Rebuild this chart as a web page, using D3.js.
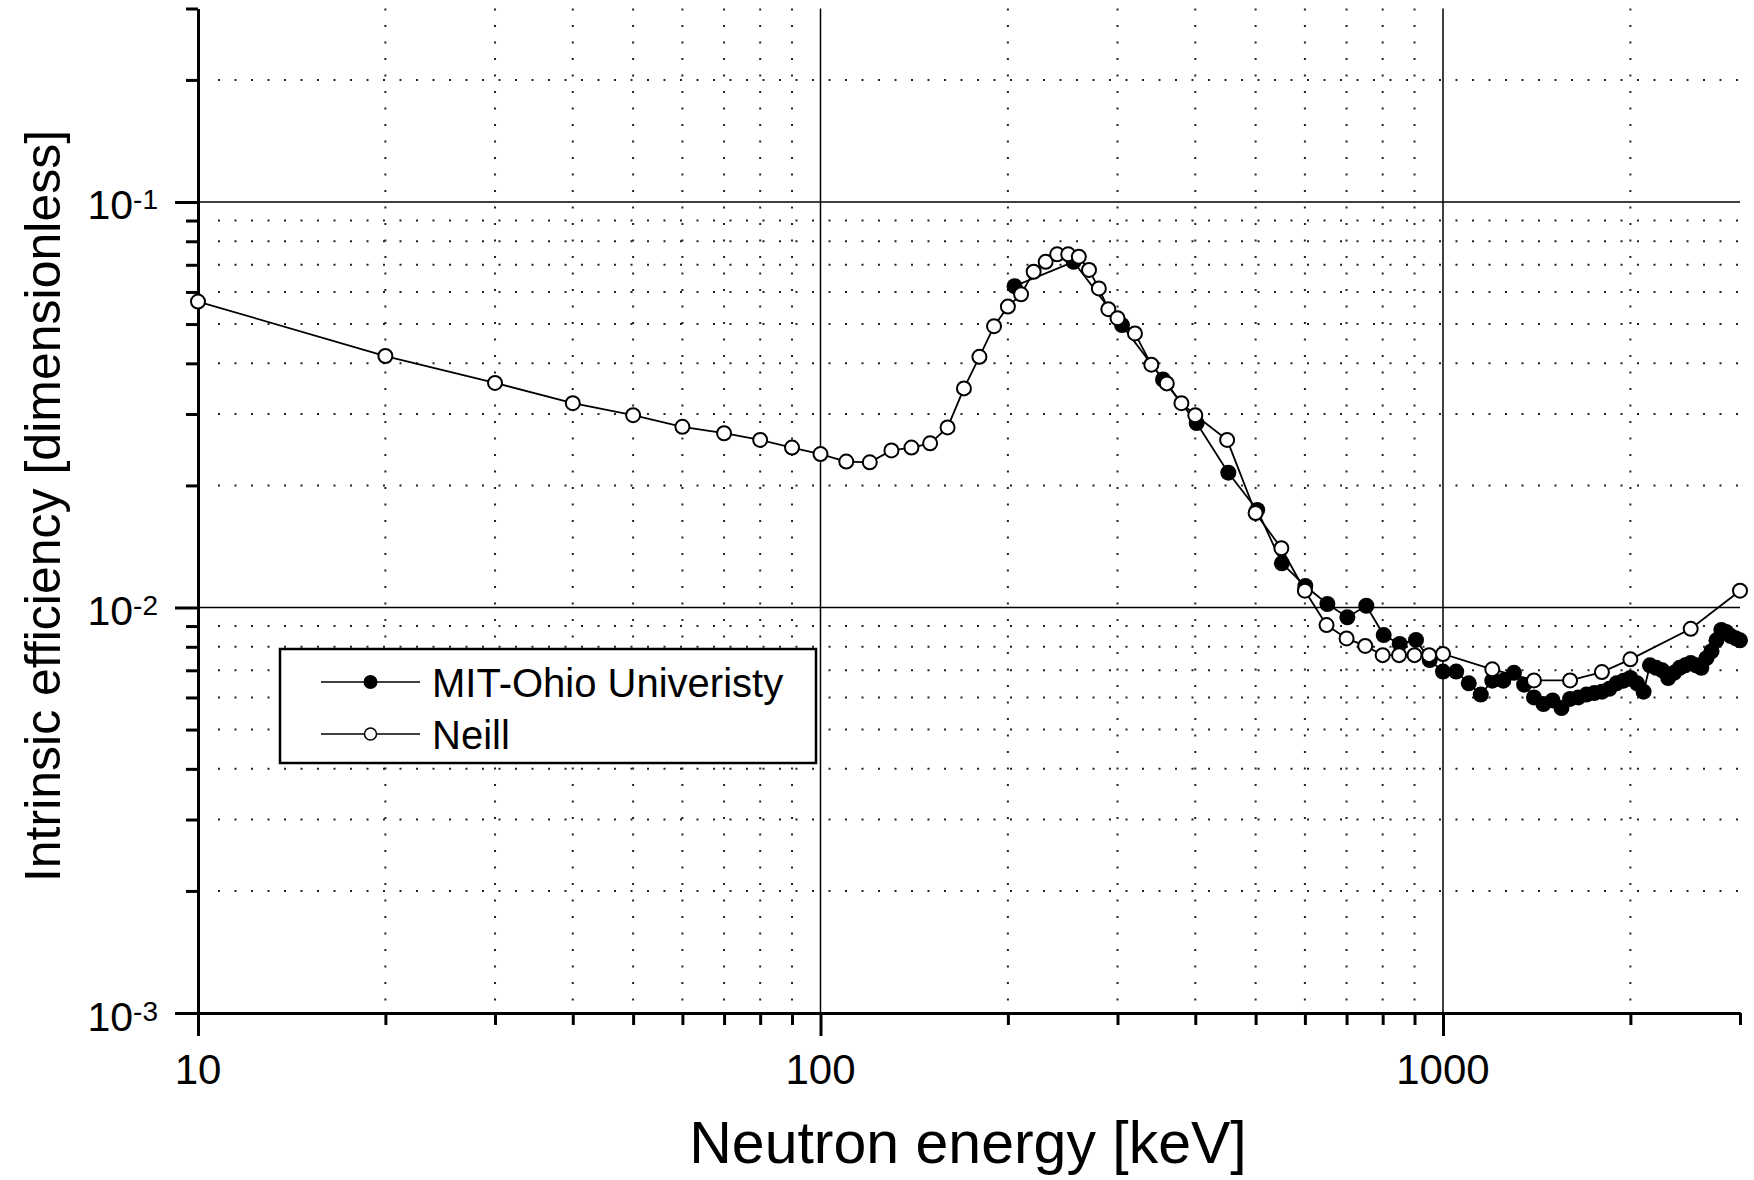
<!DOCTYPE html>
<html>
<head>
<meta charset="utf-8">
<script src="https://cdn.jsdelivr.net/npm/d3@7"></script>
<style>
  body { margin: 0; background: #fff; }
  svg text { font-family: "Liberation Sans", Arial, Helvetica, sans-serif; fill: #000; }
</style>
</head>
<body>
<svg id="chart" width="1754" height="1180"></svg>
<script>
// Neill (open circles)
const neillEnergy = [10, 20, 30, 40, 50, 60, 70, 80, 90, 100, 110, 120, 130, 140, 150, 160, 170, 180, 190,
  200, 210, 220, 230, 240, 250, 260, 270, 280, 290, 300, 320, 340, 360, 380, 400, 450, 500, 550, 600,
  650, 700, 750, 800, 850, 900, 950, 1000, 1200, 1400, 1600, 1800, 2000, 2500, 3000];
const neillEff = [0.0568, 0.0417, 0.0358, 0.0319, 0.0298, 0.0279, 0.0269, 0.0259, 0.0248, 0.0239, 0.0229,
  0.0228, 0.0244, 0.0248, 0.0254, 0.0278, 0.0347, 0.0415, 0.0494, 0.0552, 0.0592, 0.0673, 0.0712, 0.0743,
  0.0743, 0.0733, 0.068, 0.0612, 0.0544, 0.0517, 0.0474, 0.0397, 0.0357, 0.0319, 0.0298, 0.0259, 0.0171,
  0.014, 0.011, 0.00905, 0.00839, 0.00804, 0.00763, 0.00763, 0.00763, 0.00763, 0.00768, 0.00704, 0.00661,
  0.00661, 0.00693, 0.00745, 0.00886, 0.011];

// MIT-Ohio University (filled circles)
const mitEnergy = [205, 255, 305, 355, 402, 452, 503, 551, 601, 652, 702, 753, 803, 852, 905, 952, 1000,
  1050, 1100, 1150, 1200, 1250, 1300, 1350, 1400, 1450, 1500, 1550, 1600, 1650, 1700, 1750, 1800, 1850,
  1900, 1950, 2000, 2050, 2100, 2150, 2200, 2250, 2300, 2350, 2400, 2450, 2500, 2550, 2600, 2650, 2700,
  2750, 2800, 2850, 2900, 2950, 3000];
const mitEff = [0.062, 0.0712, 0.0497, 0.0365, 0.0285, 0.0215, 0.0174, 0.01285, 0.0113, 0.0102, 0.00946,
  0.0101, 0.00855, 0.00813, 0.00832, 0.00742, 0.00695, 0.00695, 0.0065, 0.0061, 0.0066, 0.0066, 0.0069,
  0.00645, 0.006, 0.00578, 0.0059, 0.00565, 0.00595, 0.006, 0.0061, 0.00615, 0.0062, 0.0063, 0.0065,
  0.0066, 0.0067, 0.0065, 0.0062, 0.0072, 0.0071, 0.007, 0.0067, 0.0069, 0.0071, 0.0072, 0.0073, 0.0072,
  0.0071, 0.0075, 0.0078, 0.0083, 0.0088, 0.0087, 0.0085, 0.0084, 0.0083];

const xMajorTicks = [10, 100, 1000];
const xMinorTicks = [20, 30, 40, 50, 60, 70, 80, 90, 200, 300, 400, 500, 600, 700, 800, 900, 2000, 3000];
const xDotted = [20, 30, 40, 50, 60, 70, 80, 90, 200, 300, 400, 500, 600, 700, 800, 900, 2000];
const yMajorTicks = [1e-3, 1e-2, 1e-1];
const yExponents = ["-3", "-2", "-1"];
const yMinorTicks = [2e-3, 3e-3, 4e-3, 5e-3, 6e-3, 7e-3, 8e-3, 9e-3,
  2e-2, 3e-2, 4e-2, 5e-2, 6e-2, 7e-2, 8e-2, 9e-2, 0.2, 0.3];
const yDotted = yMinorTicks.slice(0, 17);
const solidX = [100, 1000];
const solidY = [1e-2, 1e-1];

const svg = d3.select("#chart");

const x = d3.scaleLog().domain([10, 3000]).range([198, 1740]);
const y = d3.scaleLog().domain([1e-3, 0.3]).range([1013, 8.5]);
const x0 = x.range()[0], x1 = x.range()[1];
const y0 = y.range()[0], y1 = y.range()[1];

// dotted minor grid
const grid = svg.append("g");
grid.selectAll("line.vdot").data(xDotted).enter().append("line")
  .attr("x1", d => x(d)).attr("x2", d => x(d))
  .attr("y1", y1).attr("y2", y0 - 4)
  .attr("stroke", "#222").attr("stroke-width", 2).attr("stroke-dasharray", "2 14.5");
grid.selectAll("line.hdot").data(yDotted).enter().append("line")
  .attr("x1", x0 + 20).attr("x2", x1)
  .attr("y1", d => y(d)).attr("y2", d => y(d))
  .attr("stroke", "#222").attr("stroke-width", 2).attr("stroke-dasharray", "2 14.5");

// solid decade grid
grid.selectAll("line.vsol").data(solidX).enter().append("line")
  .attr("x1", d => x(d)).attr("x2", d => x(d))
  .attr("y1", y1).attr("y2", y0)
  .attr("stroke", "#000").attr("stroke-width", 1.5);
grid.selectAll("line.hsol").data(solidY).enter().append("line")
  .attr("x1", x0).attr("x2", x1)
  .attr("y1", d => y(d)).attr("y2", d => y(d))
  .attr("stroke", "#000").attr("stroke-width", 1.5);

// axes
function styleAxis(g) {
  g.select(".domain").attr("stroke-width", 3);
  g.selectAll(".tick line").attr("stroke-width", 3);
}
svg.append("g").attr("transform", `translate(0,${y0})`)
  .call(d3.axisBottom(x).tickValues(xMajorTicks).tickSize(23).tickSizeOuter(0).tickFormat(""))
  .call(styleAxis);
svg.append("g").attr("transform", `translate(0,${y0})`)
  .call(d3.axisBottom(x).tickValues(xMinorTicks).tickSize(12).tickSizeOuter(0).tickFormat(""))
  .call(styleAxis);
svg.append("g").attr("transform", `translate(${x0},0)`)
  .call(d3.axisLeft(y).tickValues(yMajorTicks).tickSize(23).tickSizeOuter(0).tickFormat(""))
  .call(styleAxis);
svg.append("g").attr("transform", `translate(${x0},0)`)
  .call(d3.axisLeft(y).tickValues(yMinorTicks).tickSize(12).tickSizeOuter(0).tickFormat(""))
  .call(styleAxis);

// tick labels
svg.selectAll("text.xlab").data(xMajorTicks).enter().append("text")
  .attr("x", d => x(d)).attr("y", 1084)
  .attr("text-anchor", "middle").attr("font-size", 42)
  .text(d => d);

yMajorTicks.forEach((v, i) => {
  const t = svg.append("text")
    .attr("x", 158).attr("y", y(v) + 17.5)
    .attr("text-anchor", "end").attr("font-size", 41);
  t.append("tspan").text("10");
  t.append("tspan").attr("font-size", 28).attr("dy", -10).text(yExponents[i]);
});

// axis titles
svg.append("text")
  .attr("x", 968).attr("y", 1163)
  .attr("text-anchor", "middle").attr("font-size", 59)
  .text("Neutron energy [keV]");
svg.append("text")
  .attr("transform", "translate(60,506) rotate(-90)")
  .attr("text-anchor", "middle").attr("font-size", 50)
  .text("Intrinsic efficiency [dimensionless]");

// series
const line = d3.line().x(d => x(d[0])).y(d => y(d[1]));
const mit = mitEnergy.map((e, i) => [e, mitEff[i]]);
const neill = neillEnergy.map((e, i) => [e, neillEff[i]]);

const plot = svg.append("g");
plot.append("path").datum(mit).attr("d", line)
  .attr("fill", "none").attr("stroke", "#000").attr("stroke-width", 1.8);
plot.selectAll("circle.mit").data(mit).enter().append("circle")
  .attr("cx", d => x(d[0])).attr("cy", d => y(d[1])).attr("r", 8)
  .attr("fill", "#000");

plot.append("path").datum(neill).attr("d", line)
  .attr("fill", "none").attr("stroke", "#000").attr("stroke-width", 1.8);
plot.selectAll("circle.neill").data(neill).enter().append("circle")
  .attr("cx", d => x(d[0])).attr("cy", d => y(d[1])).attr("r", 7)
  .attr("fill", "#fff").attr("stroke", "#000").attr("stroke-width", 2);

// legend
const legend = svg.append("g");
legend.append("rect")
  .attr("x", 280).attr("y", 649).attr("width", 536).attr("height", 114)
  .attr("fill", "#fff").attr("stroke", "#000").attr("stroke-width", 2.5);
const legendItems = [
  { label: "MIT-Ohio Univeristy", filled: true, cy: 682 },
  { label: "Neill", filled: false, cy: 734 }
];
legendItems.forEach(it => {
  legend.append("line")
    .attr("x1", 321).attr("x2", 420).attr("y1", it.cy).attr("y2", it.cy)
    .attr("stroke", "#000").attr("stroke-width", 1.5);
  legend.append("circle")
    .attr("cx", 370.5).attr("cy", it.cy).attr("r", it.filled ? 7 : 6)
    .attr("fill", it.filled ? "#000" : "#fff")
    .attr("stroke", "#000").attr("stroke-width", it.filled ? 0 : 1.5);
  legend.append("text")
    .attr("x", 432).attr("y", it.cy + 14.5).attr("font-size", 40)
    .text(it.label);
});
</script>
</body>
</html>
